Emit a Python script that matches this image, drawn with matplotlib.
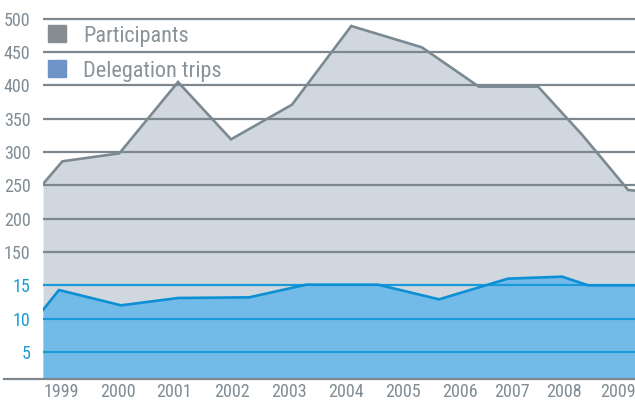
import matplotlib.pyplot as plt
from matplotlib import font_manager
from matplotlib.lines import Line2D

# Participants (left scale 150-500), x in fractional years
part_x = [1998.68, 1999.02, 2000.02, 2001.05, 2001.98, 2003.05, 2004.09,
          2005.33, 2006.33, 2007.37, 2008.14, 2008.95, 2009.07]
part_y = [252, 286, 298, 405, 319, 371, 489, 457, 398, 398, 326, 243, 242]

# Delegation trips (lower scale 0-15)
trip_x = [1998.68, 1998.96, 2000.05, 2001.05, 2002.30, 2003.30, 2004.56,
          2005.63, 2006.84, 2007.79, 2008.25, 2009.07]
trip_y = [11.3, 14.3, 12.0, 13.1, 13.2, 15.1, 15.1, 12.9, 16.0, 16.3, 15.0, 15.0]

years = [1999, 2000, 2001, 2002, 2003, 2004, 2005, 2006, 2007, 2008, 2009]
year_pos = [1999.0, 1999.99, 2000.98, 2001.99, 2002.99, 2003.99, 2004.99,
            2006.0, 2006.91, 2007.83, 2008.77]
ytick_labels = ["5", "10", "15", "150", "200", "250", "300", "350", "400", "450", "500"]

GRAY_FILL = "#d0d7de"
GRAY_LINE = "#7b8a92"
GRID_GRAY = "#7d878d"
BLUE_FILL = "#72bbe8"
BLUE_LINE = "#0d8fd3"
TEXT_GRAY = "#7f8c94"
TEXT_BLUE = "#1a9ad6"

# pick a condensed face if one is installed
installed = {f.name: f.stretch for f in font_manager.fontManager.ttflist}
narrow = [n for n in ["Liberation Sans Narrow", "Roboto Condensed", "Open Sans Condensed",
                      "DejaVu Sans Condensed"] if n in installed]
plt.rcParams["font.family"] = narrow + ["Roboto", "DejaVu Sans"]
plt.rcParams["font.stretch"] = "condensed"

# both series share one axis: grid unit 1 = 5 trips = 50 participants (offset by 1)
part_g = [p / 50 + 1 for p in part_y]
trip_g = [t / 5 for t in trip_y]

fig = plt.figure(figsize=(6.35, 4.01), dpi=100)
ax = fig.add_axes([43 / 635, 22 / 401, 1 - 43 / 635, 1 - 22 / 401])

ax.fill_between(part_x, part_g, 0, color=GRAY_FILL, lw=0, zorder=1)
ax.fill_between(trip_x, trip_g, 0, color=BLUE_FILL, lw=0, zorder=2)

for k in range(1, 12):
    ax.axhline(k, color=TEXT_BLUE if k <= 3 else GRID_GRAY, lw=1.6, zorder=3)

ax.plot(part_x, part_g, color=GRAY_LINE, lw=1.9, zorder=4, solid_joinstyle="miter")
ax.plot(trip_x, trip_g, color=BLUE_LINE, lw=1.9, zorder=5, solid_joinstyle="miter")

ax.set_xlim(1998.68, 2009.07)
ax.set_ylim(0.19, 11.56)

ax.set_yticks(range(1, 12))
ax.set_yticklabels(ytick_labels, fontsize=13)
for k, lab in enumerate(ax.get_yticklabels()):
    lab.set_color(TEXT_BLUE if k < 3 else TEXT_GRAY)
ax.set_xticks(year_pos)
ax.set_xticklabels([str(y) for y in years], fontsize=13, color=TEXT_GRAY)
ax.tick_params(axis="y", length=0, pad=9)
ax.tick_params(axis="x", length=0, pad=3)
for s in ax.spines.values():
    s.set_visible(False)

# bottom baseline running out to the left edge
fig.add_artist(Line2D([4 / 635, 1], [22 / 401, 22 / 401], color=GRID_GRAY, lw=1.6))

# legend
ax.add_artist(plt.Rectangle((48 / 635, 1 - 42 / 401), 18 / 635, 17 / 401,
                            transform=fig.transFigure, color="#878c90", zorder=6))
ax.add_artist(plt.Rectangle((48 / 635, 1 - 77 / 401), 18 / 635, 17 / 401,
                            transform=fig.transFigure, color="#6e93c6", zorder=6))
fig.text(83 / 635, 1 - 42 / 401, "Participants", fontsize=16, color="#8a9399",
         va="baseline", ha="left")
fig.text(83 / 635, 1 - 77 / 401, "Delegation trips", fontsize=16, color="#8a9399",
         va="baseline", ha="left")

fig.savefig("out.png", dpi=100)
